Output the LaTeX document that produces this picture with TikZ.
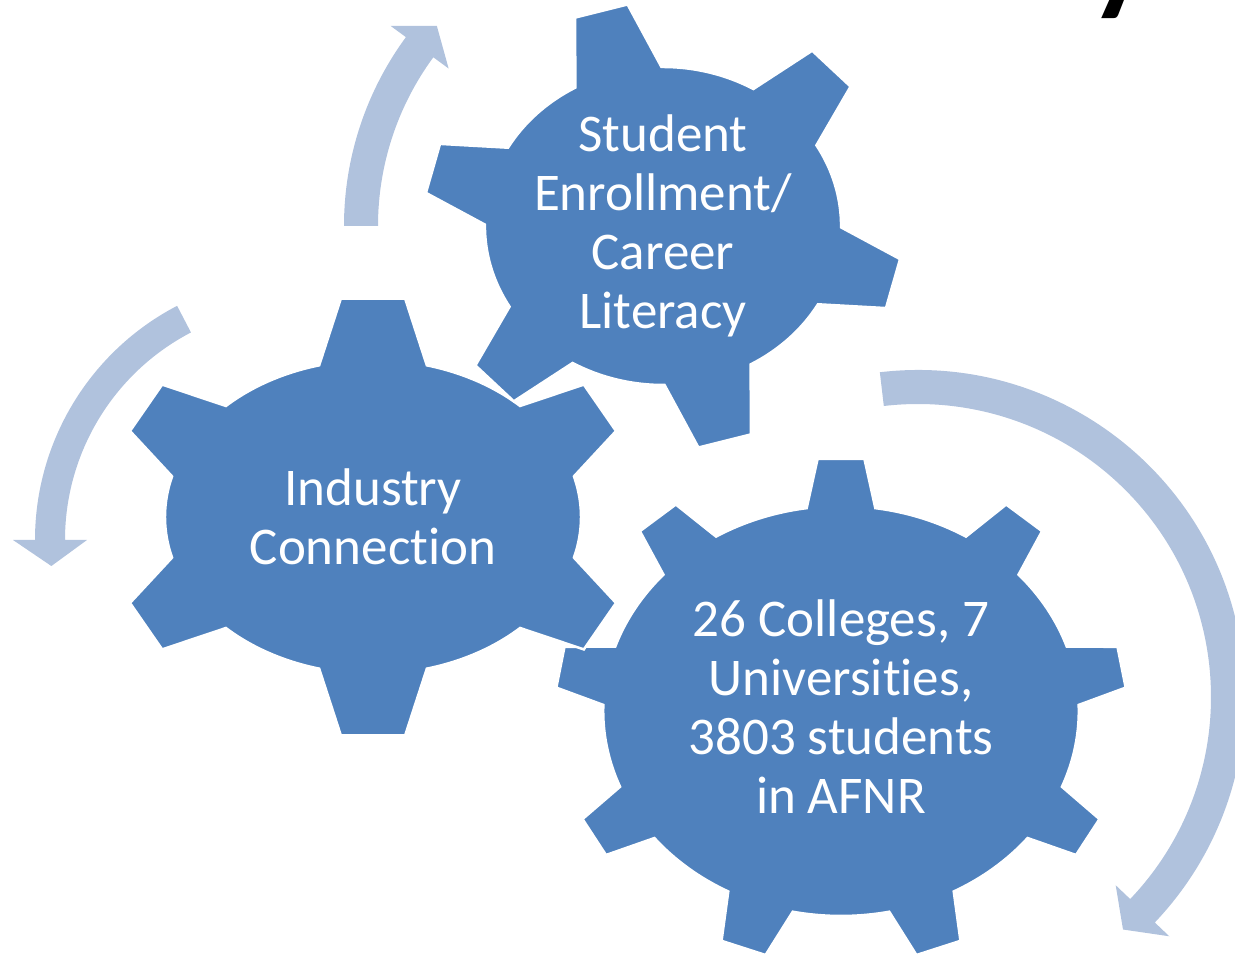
\documentclass[tikz,border=0pt]{standalone}
\usepackage{fontspec}
\setmainfont{Carlito}[Ligatures=NoCommon]
\usepackage{tikz}

\definecolor{bleu}{RGB}{79,129,189}
\definecolor{bleuclair}{RGB}{176,194,221}
\tikzstyle{engrenage}=[fill=bleu, draw=white, line width=2.5pt]
\tikzstyle{fleche}=[fill=bleuclair]
\tikzstyle{etiquette}=[text=white, align=center, inner sep=0pt, font=\fontsize{53}{59}\selectfont]

% centre, dents, rotation, r int, r ext, echelle corps, echelle dents, demi-angle sommet, demi-angle base
\newcommand{\engrenage}[9]{%
  \filldraw[engrenage, shift={#1}]
    ({#6*#4*cos(#3-#9)},{#4*sin(#3-#9)})
    \foreach \k [evaluate=\k as \ang using #3+(\k-1)*360/#2] in {1,...,#2}{
      -- ({#7*#5*cos(\ang-#8)},{#5*sin(\ang-#8)})
      -- ({#7*#5*cos(\ang+#8)},{#5*sin(\ang+#8)})
      -- ({#6*#4*cos(\ang+#9)},{#4*sin(\ang+#9)})
      arc[start angle={\ang+#9}, end angle={\ang+360/#2-#9}, x radius={#6*#4}, y radius=#4]
    } -- cycle;
}

% centre, rayon, demi-largeur, demi-tete, depart, fin, pointe
\newcommand{\fleche}[7]{%
  \fill[fleche, shift={#1}]
    (#5:{#2+#3}) arc[start angle=#5, end angle=#6, radius={#2+#3}]
    -- (#6:{#2+#4}) -- (#7:#2) -- (#6:{#2-#4}) -- (#6:{#2-#3})
    arc[start angle=#6, end angle=#5, radius={#2-#3}] -- cycle;
}

\begin{document}
\begin{tikzpicture}[x=1pt, y=1pt]
        \useasboundingbox (0,0) rectangle (1235,958);

        % Les centres
        \coordinate (c1) at (373,441);
        \coordinate (c2) at (663,732);
        \coordinate (c3) at (841,247);
        \coordinate (a1) at (299,418);
        \coordinate (a3) at (918,261);

        % Les flèches
        \fleche{(c2)}{302}{17}{36}{180}{143.7}{138.5}
        \fleche{(a1)}{249}{15}{37}{117.5}{180}{186}
        \fleche{(a3)}{310}{17}{37}{96.7}{-43.6}{-48.6}

        % Les engrenages
        \engrenage{(c3)}{9}{90}{205}{253}{1.16}{1.13}{4.7}{8.3}
        \engrenage{(c1)}{6}{90}{157}{220}{1.325}{1.2}{7}{15}
        \engrenage{(c2)}{6}{105}{159}{224}{1.12}{1.07}{6.5}{14.5}

        % Les textes
        \node[etiquette] (industrie) at (c1) {Industry\\Connection};
        \node[etiquette] (inscription) at (c2) {Student\\Enrollment/\\Career\\Literacy};
        \node[etiquette] (colleges) at ([yshift=4pt]c3) {26 Colleges, 7\\Universities,\\3803 students\\in AFNR};
        \node[anchor=base west, inner sep=0pt, font=\fontsize{128}{128}\selectfont\bfseries] (titre) at (1089,959) {y};
    \end{tikzpicture}
\end{document}
